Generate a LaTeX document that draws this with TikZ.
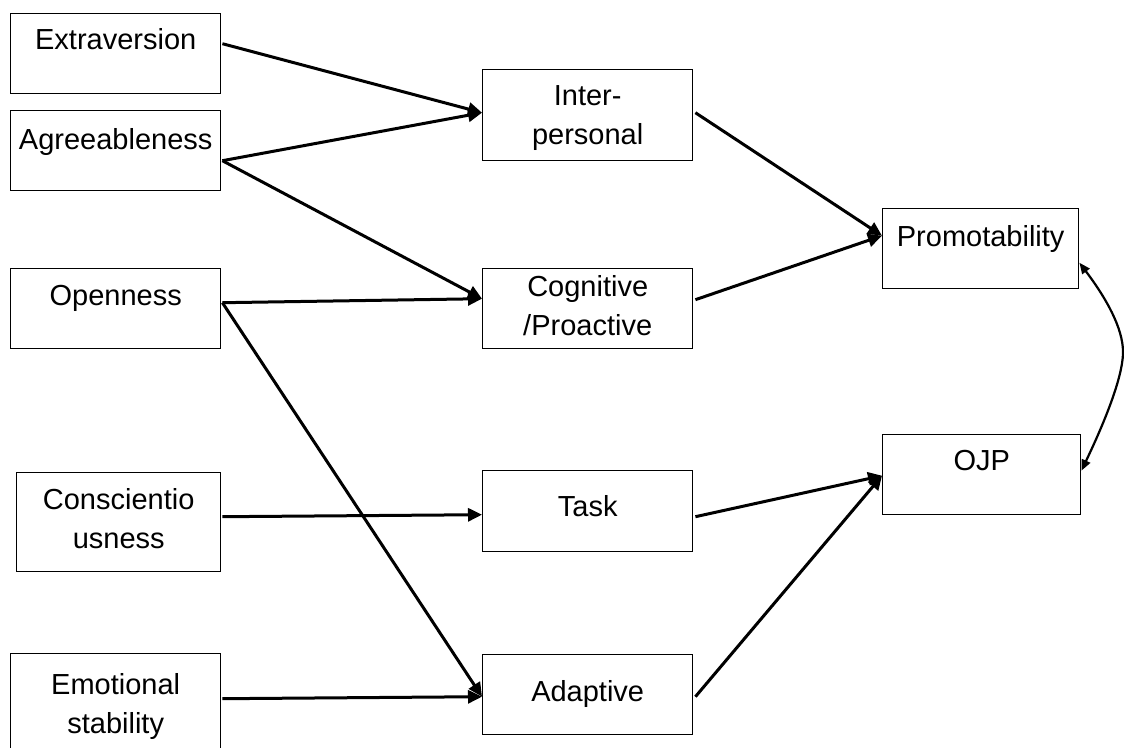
\documentclass[tikz,border=0pt]{standalone}
\usepackage{fontspec}
\setmainfont{Liberation Sans}
\usetikzlibrary{arrows.meta}
\begin{document}
\begin{tikzpicture}[x=1pt,y=-1pt,
  box/.style={draw, line width=1.4pt, rectangle, inner sep=0pt, anchor=north west},
  txt/.style={inner sep=0pt, anchor=north, align=center, font=\fontsize{29}{39}\selectfont},
  link/.style={line width=3pt, -{Triangle[length=14pt,width=13pt]}},
  dbl/.style={line width=2.2pt, {Triangle[length=11pt,width=9pt]}-{Triangle[length=11pt,width=9pt]}}]
\useasboundingbox (0,0) rectangle (1124,747);
\clip (0,0) rectangle (1124,747);

% personality traits
\node[box, minimum width=210pt, minimum height=80pt] (ext) at (10,13) {};
\node[box, minimum width=210pt, minimum height=80pt] (agr) at (10,110) {};
\node[box, minimum width=210pt, minimum height=80pt] (opn) at (10,268) {};
\node[box, minimum width=204pt, minimum height=99pt] (con) at (16,472) {};
\node[box, minimum width=210pt, minimum height=120pt] (emo) at (10,653) {};

% performance dimensions
\node[box, minimum width=210pt, minimum height=91pt] (ipr) at (482,69) {};
\node[box, minimum width=210pt, minimum height=80pt] (cog) at (482,268) {};
\node[box, minimum width=210pt, minimum height=81pt] (tsk) at (482,470) {};
\node[box, minimum width=210pt, minimum height=80pt] (adp) at (482,654) {};

% outcomes
\node[box, minimum width=196pt, minimum height=80pt] (pro) at (882,208) {};
\node[box, minimum width=198pt, minimum height=80pt] (ojp) at (882,434) {};

% box captions, set near the top of each box
\node[txt] (extT) at ([yshift=-15pt]ext.north) {Extraversion};
\node[txt] (agrT) at ([yshift=-18pt]agr.north) {Agreeableness};
\node[txt] (opnT) at ([yshift=-17pt]opn.north) {Openness};
\node[txt] (conT) at ([yshift=-16pt]con.north) {Conscientio\\usness};
\node[txt] (emoT) at ([yshift=-20pt]emo.north) {Emotional\\stability};
\node[txt] (iprT) at ([yshift=-16pt]ipr.north) {Inter-\\personal};
\node[txt] (cogT) at ([yshift=-7pt]cog.north) {Cognitive\\/Proactive};
\node[txt] (tskT) at ([yshift=-25pt]tsk.north) {Task};
\node[txt] (adpT) at ([yshift=-26pt]adp.north) {Adaptive};
\node[txt] (proT) at ([yshift=-17pt]pro.north) {Promotability};
\node[txt] (ojpT) at ([yshift=-16pt]ojp.north) {OJP};

% traits -> dimensions
\draw[link] ([xshift=1pt,yshift=10pt]ext.east) -- ([yshift=2.5pt]ipr.west);
\draw[link] ([xshift=1pt,yshift=-10pt]agr.east) -- ([yshift=2.5pt]ipr.west);
\draw[link] ([xshift=1pt,yshift=-10pt]agr.east) -- ([yshift=10pt]cog.west);
\draw[link] ([xshift=1pt,yshift=6pt]opn.east) -- ([yshift=10pt]cog.west);
\draw[link] ([xshift=1pt,yshift=6pt]opn.east) -- ([yshift=-2pt]adp.west);
\draw[link] ([xshift=1pt,yshift=5.5pt]con.east) -- ([yshift=-3.5pt]tsk.west);
\draw[link] ([xshift=1pt,yshift=15pt]emo.east) -- ([yshift=-2pt]adp.west);

% dimensions -> outcomes
\draw[link] ([xshift=2pt,yshift=2.5pt]ipr.east) -- ([yshift=13pt]pro.west);
\draw[link] ([xshift=2pt,yshift=9pt]cog.east) -- ([yshift=13pt]pro.west);
\draw[link] ([xshift=2pt,yshift=-5.5pt]tsk.east) -- ([yshift=-1pt]ojp.west);
\draw[link] ([xshift=2pt,yshift=-2pt]adp.east) -- ([yshift=-1pt]ojp.west);

% correlation between outcomes
\draw[dbl] ([yshift=-14pt]pro.east) .. controls (1106,298) and (1123,328) .. (1123,352)
  .. controls (1123,382) and (1096,440) .. ([yshift=4pt]ojp.east);
\end{tikzpicture}
\end{document}
